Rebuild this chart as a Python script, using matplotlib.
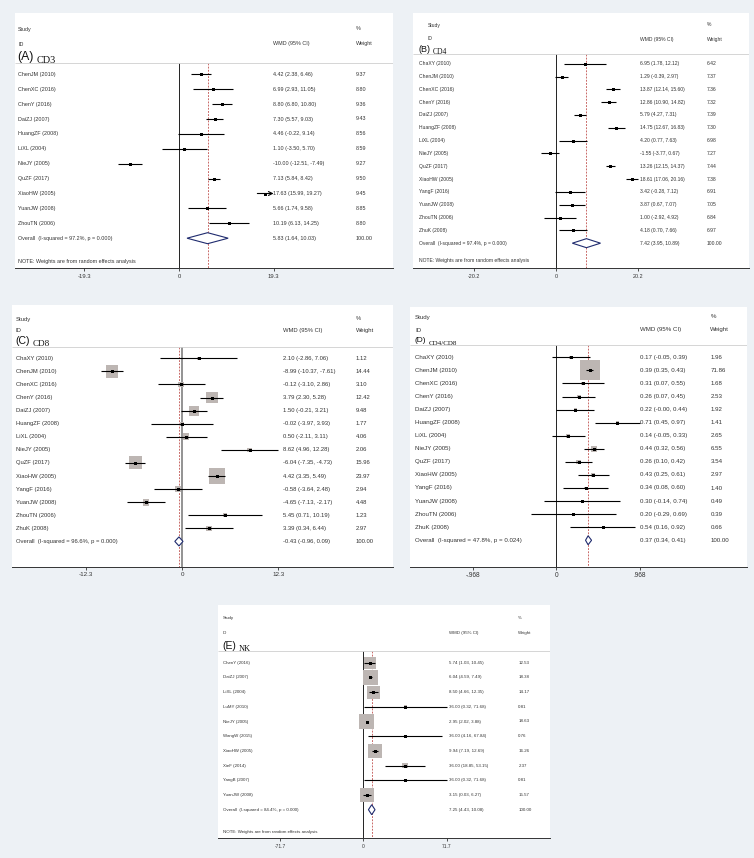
import numpy as np
import matplotlib.pyplot as plt
from matplotlib.patches import Polygon

plt.rcParams['font.family'] = ['Liberation Sans', 'DejaVu Sans']

W, H = 754, 858
BG = '#edf1f5'
TXT = '#333333'

# === (A) CD3
studies_a = ["ChenJM (2010)", "ChenXC (2016)", "ChenY (2016)", "DaiZJ (2007)", "HuangZF (2008)",
             "LiXL (2004)", "NieJY (2005)", "QuZF (2017)", "XiaoHW (2005)", "YuanJW (2008)",
             "ZhouTN (2006)"]
wmd_a = [4.42, 6.99, 8.80, 7.30, 4.46, 1.10, -10.00, 7.13, 17.63, 5.66, 10.19]
lo_a = [2.38, 2.93, 6.80, 5.57, -0.22, -3.50, -12.51, 5.84, 15.99, 1.74, 6.13]
hi_a = [6.46, 11.05, 10.80, 9.03, 9.14, 5.70, -7.49, 8.42, 19.27, 9.58, 14.25]
wt_a = [9.37, 8.80, 9.36, 9.43, 8.56, 8.59, 9.27, 9.50, 9.45, 8.85, 8.80]
overall_a = [5.83, 1.64, 10.03]
het_a = [97.2, 0.000]

# === (B) CD4
studies_b = ["ChaXY (2010)", "ChenJM (2010)", "ChenXC (2016)", "ChenY (2016)", "DaiZJ (2007)",
             "HuangZF (2008)", "LiXL (2004)", "NieJY (2005)", "QuZF (2017)", "XiaoHW (2005)",
             "YangF (2016)", "YuanJW (2008)", "ZhouTN (2006)", "ZhuK (2008)"]
wmd_b = [6.95, 1.29, 13.87, 12.86, 5.79, 14.75, 4.20, -1.55, 13.26, 18.61, 3.42, 3.87, 1.00, 4.18]
lo_b = [1.78, -0.39, 12.14, 10.90, 4.27, 12.67, 0.77, -3.77, 12.15, 17.06, -0.28, 0.67, -2.92, 0.70]
hi_b = [12.12, 2.97, 15.60, 14.82, 7.31, 16.83, 7.63, 0.67, 14.37, 20.16, 7.12, 7.07, 4.92, 7.66]
wt_b = [6.42, 7.37, 7.36, 7.32, 7.39, 7.30, 6.98, 7.27, 7.44, 7.38, 6.91, 7.05, 6.84, 6.97]
overall_b = [7.42, 3.95, 10.89]
het_b = [97.4, 0.000]

# === (C) CD8
studies_c = studies_b
wmd_c = [2.10, -8.99, -0.12, 3.79, 1.50, -0.02, 0.50, 8.62, -6.04, 4.42, -0.58, -4.65, 5.45, 3.39]
lo_c = [-2.86, -10.37, -3.10, 2.30, -0.21, -3.97, -2.11, 4.96, -7.35, 3.35, -3.64, -7.13, 0.71, 0.34]
hi_c = [7.06, -7.61, 2.86, 5.28, 3.21, 3.93, 3.11, 12.28, -4.73, 5.49, 2.48, -2.17, 10.19, 6.44]
wt_c = [1.12, 14.44, 3.10, 12.42, 9.48, 1.77, 4.06, 2.06, 15.96, 23.97, 2.94, 4.48, 1.23, 2.97]
overall_c = [-0.43, -0.96, 0.09]
het_c = [96.6, 0.000]

# === (D) CD4/CD8
studies_d = studies_b
wmd_d = [0.17, 0.39, 0.31, 0.26, 0.22, 0.71, 0.14, 0.44, 0.26, 0.43, 0.34, 0.30, 0.20, 0.54]
lo_d = [-0.05, 0.35, 0.07, 0.07, -0.00, 0.45, -0.05, 0.32, 0.10, 0.25, 0.08, -0.14, -0.29, 0.16]
hi_d = [0.39, 0.43, 0.55, 0.45, 0.44, 0.97, 0.33, 0.56, 0.42, 0.61, 0.60, 0.74, 0.69, 0.92]
wt_d = [1.96, 71.86, 1.68, 2.53, 1.92, 1.41, 2.65, 6.55, 3.54, 2.97, 1.40, 0.49, 0.39, 0.66]
overall_d = [0.37, 0.34, 0.41]
het_d = [47.8, 0.024]

# === (E) NK
studies_e = ["ChenY (2016)", "DaiZJ (2007)", "LiXL (2004)", "LuMY (2010)", "NieJY (2005)",
             "WangW (2015)", "XiaoHW (2005)", "XieF (2014)", "YangB (2007)", "YuanJW (2008)"]
wmd_e = [5.74, 6.04, 8.50, 36.00, 2.95, 36.00, 9.94, 36.00, 36.00, 3.15]
lo_e = [1.03, 4.59, 4.66, 0.32, 2.02, 4.16, 7.19, 18.85, 0.32, 0.03]
hi_e = [10.45, 7.49, 12.35, 71.68, 3.88, 67.84, 12.69, 53.15, 71.68, 6.27]
wt_e = [12.53, 18.38, 14.17, 0.81, 18.63, 0.76, 16.26, 2.37, 0.81, 15.57]
overall_e = [7.25, 4.43, 10.08]
het_e = [84.4, 0.000]

# === 布局 (pixel positions)
layouts = {
    'A': dict(box=(15, 13, 393, 268.3), x0=179, s=4.9, tick=19.3, ticklab=['-19.3', '0', '19.3'],
              fs=3.9, lab_fs=8.8, sub_fs=7.4, study_x=18, head_x=18, ci_x=273, wt_x=356,
              y_study=29, y_id=44, y_lab=57, y_line=62.7, first=74.3, step=14.9, note=261.7,
              k=0, dh=5.5, arrow=["XiaoHW (2005)"], zero_c='#222222', zero_w=0.7),
    'B': dict(box=(413, 13, 749, 268.3), x0=556.3, s=4.06, tick=20.2, ticklab=['-20.2', '0', '20.2'],
              fs=3.6, lab_fs=6.5, sub_fs=5.5, study_x=419, head_x=428, ci_x=640, wt_x=707,
              y_study=25, y_id=39, y_lab=49.5, y_line=54, first=63.7, step=12.82, note=260.7,
              k=0, dh=4.5, arrow=[], zero_c='#222222', zero_w=0.7),
    'C': dict(box=(12, 305, 393, 566.7), x0=182.3, s=7.8, tick=12.3, ticklab=['-12.3', '0', '12.3'],
              fs=4.2, lab_fs=7.6, sub_fs=6.6, study_x=16, head_x=16, ci_x=282.7, wt_x=356,
              y_study=319, y_id=330.7, y_lab=341, y_line=346.7, first=358.3, step=13.08, note=None,
              k=3.27, dh=4.5, arrow=[], zero_c='#8a8a8a', zero_w=1.3),
    'D': dict(box=(410, 307, 747, 566.7), x0=556.3, s=86.0, tick=0.968, ticklab=['-.968', '0', '.968'],
              fs=4.4, lab_fs=6.0, sub_fs=5.0, study_x=415, head_x=415, ci_x=640.3, wt_x=710.3,
              y_study=317, y_id=330, y_lab=340.5, y_line=345, first=357.3, step=13.07, note=None,
              k=2.36, dh=4.5, arrow=[], zero_c='#222222', zero_w=0.7),
    'E': dict(box=(218.3, 605, 550, 838.3), x0=363.3, s=1.162, tick=71.7, ticklab=['-71.7', '0', '71.7'],
              fs=3.2, lab_fs=7.5, sub_fs=6.0, study_x=222.7, head_x=222.7, ci_x=449.3, wt_x=518.3,
              y_study=618.3, y_id=633.3, y_lab=646, y_line=651, first=662.7, step=14.7, note=831.7,
              k=3.5, dh=5.0, arrow=[], zero_c='#222222', zero_w=0.7),
}

fig = plt.figure(figsize=(W / 100, H / 100), dpi=100, facecolor=BG)


def draw_panel(tag, title, studies, wmd, lo, hi, wt, overall, het, lay):
    L, T, R, B = lay['box']
    x0, s = lay['x0'], lay['s']
    ax = fig.add_axes([L / W, 1 - B / H, (R - L) / W, (B - T) / H])
    ax.set_facecolor('white')
    xl = ((L - x0) / s, (R - x0) / s)
    ax.set_xlim(*xl)
    ax.set_ylim(B, T)
    px = lambda p: (p - x0) / s
    fs = lay['fs']
    kw = dict(fontsize=fs, color=TXT, va='center', ha='left')

    # header
    ax.text(px(lay['head_x']), lay['y_study'], 'Study', **kw)
    ax.text(px(lay['head_x']), lay['y_id'], 'ID', **kw)
    ax.text(px(lay['ci_x']), lay['y_id'], 'WMD (95% CI)', **kw)
    ax.text(px(lay['wt_x']), lay['y_study'], '%', **kw)
    ax.text(px(lay['wt_x']), lay['y_id'], 'Weight', **kw)
    t = ax.text(px(lay['study_x']) - 0.3 / s, lay['y_lab'], f'({tag})', fontsize=lay['lab_fs'],
                color='#111111', va='center', ha='left')
    ax.annotate(title, xy=(1, 0), xycoords=t, xytext=(1.5, -1.2), textcoords='offset points',
                fontsize=lay['sub_fs'], family='Liberation Serif', color='#111111',
                va='bottom', ha='left')
    ax.hlines(lay['y_line'], xl[0], xl[1], color='#cfcfcf', lw=0.6)

    n = len(studies)
    ys = np.array([lay['first'] + i * lay['step'] for i in range(n)])
    y_ov = lay['first'] + n * lay['step']

    # reference lines
    ax.vlines(0, lay['y_line'], B, color=lay['zero_c'], lw=lay['zero_w'], zorder=1)
    ax.vlines(overall[0], lay['y_line'], B, color='#c0504d', lw=0.6, ls=(0, (2.2, 1.6)), zorder=1)

    # study rows
    for i, name in enumerate(studies):
        ax.text(px(lay['study_x']), ys[i], name, **kw)
        ax.text(px(lay['ci_x']), ys[i], f'{wmd[i]:.2f} ({lo[i]:.2f}, {hi[i]:.2f})', **kw)
        ax.text(px(lay['wt_x']), ys[i], f'{wt[i]:.2f}', **kw)
        if name in lay['arrow']:
            ax.annotate('', xy=(lay['tick'], ys[i]), xytext=(lo[i], ys[i]),
                        arrowprops=dict(arrowstyle='->', lw=0.8, color='black',
                                        shrinkA=0, shrinkB=0, mutation_scale=7), zorder=3)
        else:
            ax.hlines(ys[i], lo[i], hi[i], color='black', lw=0.8, zorder=3)

    if lay['k'] > 0:
        sizes = (lay['k'] * np.sqrt(np.array(wt)) * 0.72) ** 2
        ax.scatter(wmd, ys, marker='s', s=sizes, color='#bdb6b3', lw=0, zorder=2)
    ax.scatter(wmd, ys, marker='s', s=(3.0 * 0.72) ** 2, color='black', lw=0, zorder=4)

    # overall
    ax.text(px(lay['study_x']), y_ov, f'Overall  (I-squared = {het[0]:.1f}%, p = {het[1]:.3f})', **kw)
    ax.text(px(lay['ci_x']), y_ov, f'{overall[0]:.2f} ({overall[1]:.2f}, {overall[2]:.2f})', **kw)
    ax.text(px(lay['wt_x']), y_ov, '100.00', **kw)
    dh = lay['dh']
    dia = Polygon([(overall[1], y_ov), (overall[0], y_ov - dh), (overall[2], y_ov),
                   (overall[0], y_ov + dh)], closed=True, facecolor='white',
                  edgecolor='#1f2b6e', lw=0.8, zorder=5)
    ax.add_patch(dia)

    if lay['note'] is not None:
        ax.text(px(lay['study_x']), lay['note'], 'NOTE: Weights are from random effects analysis', **kw)

    # axis
    for sp in ['top', 'left', 'right']:
        ax.spines[sp].set_visible(False)
    ax.spines['bottom'].set_color('#333333')
    ax.spines['bottom'].set_linewidth(0.7)
    ax.set_yticks([])
    ax.set_xticks([-lay['tick'], 0, lay['tick']])
    ax.set_xticklabels(lay['ticklab'])
    ax.tick_params(axis='x', length=2.2, width=0.6, pad=1.8, labelsize=fs + 0.3,
                   colors='#333333', labelcolor=TXT)
    return ax


draw_panel('A', 'CD3', studies_a, wmd_a, lo_a, hi_a, wt_a, overall_a, het_a, layouts['A'])
draw_panel('B', 'CD4', studies_b, wmd_b, lo_b, hi_b, wt_b, overall_b, het_b, layouts['B'])
draw_panel('C', 'CD8', studies_c, wmd_c, lo_c, hi_c, wt_c, overall_c, het_c, layouts['C'])
draw_panel('D', 'CD4/CD8', studies_d, wmd_d, lo_d, hi_d, wt_d, overall_d, het_d, layouts['D'])
draw_panel('E', 'NK', studies_e, wmd_e, lo_e, hi_e, wt_e, overall_e, het_e, layouts['E'])

fig.savefig('out.png', dpi=100, facecolor=BG)
